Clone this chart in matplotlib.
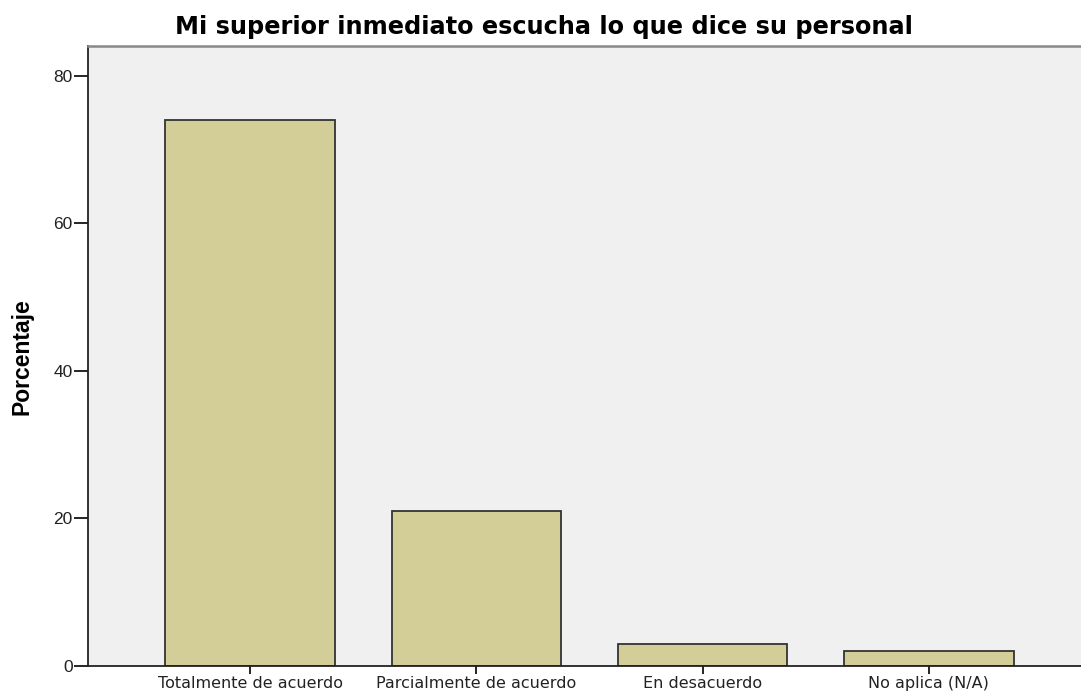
import numpy as np
import matplotlib
matplotlib.use("Agg")
import matplotlib.pyplot as plt

plt.rcParams["font.family"] = ["Liberation Sans", "DejaVu Sans"]

# datos
categorias = ["Totalmente de acuerdo", "Parcialmente de acuerdo",
              "En desacuerdo", "No aplica (N/A)"]
porcentajes = [74, 21, 3, 2]
yticks = [0, 20, 40, 60, 80]

fig = plt.figure(figsize=(10.81, 6.94), dpi=100)
ax = fig.add_axes([0.0814, 0.0403, 0.927, 0.893])
ax.set_facecolor("#f0f0f0")

x = np.arange(len(categorias))
ax.bar(x, porcentajes, width=0.75, color="#d3ce97",
       edgecolor="#333333", linewidth=1.3)

ax.set_xlim(-0.717, 3.713)
ax.set_ylim(0, 84)
ax.set_xticks(x)
ax.set_xticklabels(categorias, fontsize=11.5, family="DejaVu Sans", color="#222222")
ax.set_yticks(yticks)
ax.set_yticklabels([str(v) for v in yticks], fontsize=12.5, color="#222222")
ax.tick_params(axis="y", length=10, width=1.2, direction="out", pad=1)
ax.tick_params(axis="x", length=6, width=1.2, direction="out", pad=1)

ax.set_ylabel("Porcentaje", fontsize=16.5, fontweight="bold", va="center")
ax.yaxis.set_label_coords(-0.066, 0.5)

for s in ["left", "bottom"]:
    ax.spines[s].set_linewidth(1.3)
    ax.spines[s].set_color("#222222")
ax.spines["top"].set_color("#888888")
ax.spines["top"].set_linewidth(1.8)
ax.spines["right"].set_visible(False)

fig.text(0.503, 0.978, "Mi superior inmediato escucha lo que dice su personal",
         ha="center", va="top", fontsize=17.3, fontweight="bold", family="DejaVu Sans")

fig.savefig("out.png", dpi=100)
